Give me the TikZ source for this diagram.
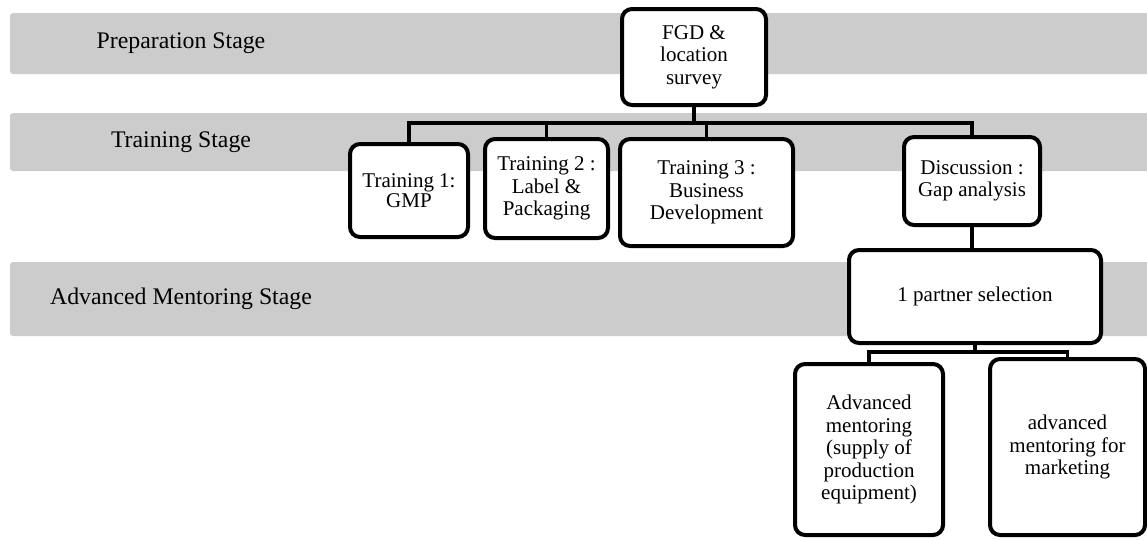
\documentclass[tikz,border=0pt]{standalone}
\usepackage{fontspec}
\setmainfont{Liberation Serif}
\begin{document}
\begin{tikzpicture}[x=1pt,y=-1pt,
	stage/.style={fill=black!20,rounded corners=3pt},
	stagetext/.style={font=\fontsize{23.8}{28}\selectfont},
	box/.style={draw,line width=4pt,rounded corners=10pt,fill=white,align=center,inner sep=2pt,font=\fontsize{21}{22.5}\selectfont},
	link/.style={line width=3.5pt}]
	\useasboundingbox (0,0) rectangle (1147,539);
	%Stage bands
	\foreach \t/\b/\n/\s in {13/74/prep/Preparation Stage,113/171/train/Training Stage,262/336/adv/Advanced Mentoring Stage}
	{\fill[stage] (10,\t) rectangle (1165,\b);
		\node[stagetext] (\n) at (181,{(\t+\b)/2}) {\s};}
	%Boxes
	\node[box,minimum width=144pt,minimum height=96pt] (fgd) at (694,57) {FGD \&\\location\\survey};
	\node[box,minimum width=118pt,minimum height=93pt,font=\fontsize{21}{15}\selectfont] (tr1) at (409,190.5) {Training 1:\\GMP};
	\node[box,minimum width=123pt,minimum height=99pt] (tr2) at (546.5,188.5) {Training 2 :\\Label \&\\Packaging};
	\node[box,minimum width=173pt,minimum height=107pt] (tr3) at (706.5,192.5) {Training 3 :\\Business\\Development};
	\node[box,minimum width=136pt,minimum height=88pt] (disc) at (972,181) {Discussion :\\Gap analysis};
	\node[box,minimum width=252pt,minimum height=93pt] (partner) at (975,296.5) {1 partner selection};
	\node[box,minimum width=148pt,minimum height=171pt] (adv1) at (869,449.5) {Advanced\\mentoring\\(supply of\\production\\equipment)};
	\node[box,minimum width=155pt,minimum height=176pt] (adv2) at (1067.5,447) {advanced\\mentoring for\\marketing};
	%Connectors
	\path (fgd.south) ++(0,16) coordinate (bus);
	\draw[link] (fgd.south) -- (bus);
	\foreach \c in {tr1,tr2,tr3,disc}
	\draw[link] (bus) -| (\c.north);
	\draw[link] (disc.south) -- (disc.south |- partner.north);
	\path (partner.south) ++(0,7) coordinate (bus2);
	\draw[link] (partner.south) -- (bus2);
	\foreach \c in {adv1,adv2}
	\draw[link] (bus2) -| (\c.north);
\end{tikzpicture}
\end{document}
